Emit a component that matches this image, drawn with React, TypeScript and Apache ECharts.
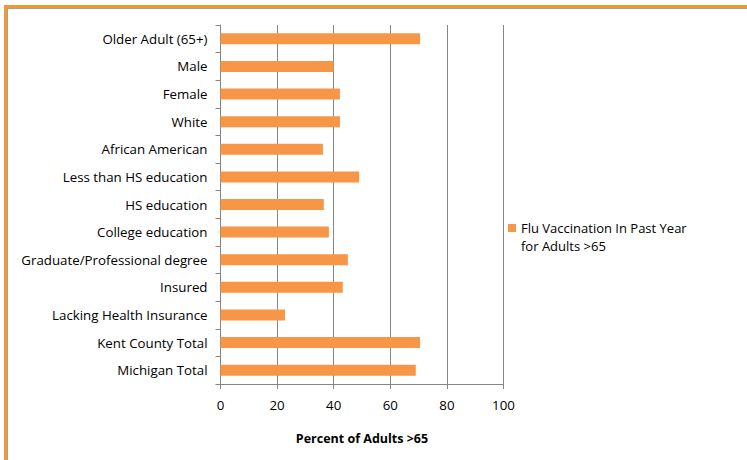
import React, { useEffect, useRef } from "react";
import * as echarts from "echarts";

const categories = [
  "Older Adult (65+)",
  "Male",
  "Female",
  "White",
  "African American",
  "Less than HS education",
  "HS education",
  "College education",
  "Graduate/Professional degree",
  "Insured",
  "Lacking Health Insurance",
  "Kent County Total",
  "Michigan Total",
];
const values = [70.5, 40, 42.2, 42.2, 36.2, 49, 36.5, 38.3, 45, 43.2, 22.8, 70.5, 69];
const seriesName = "Flu Vaccination In Past Year\nfor Adults >65";
const axisTitle = "Percent of Adults >65";

const FONT = "'Open Sans', 'Noto Sans', sans-serif";

export default function App() {
  const ref = useRef<HTMLDivElement>(null);
  useEffect(() => {
    document.body.style.margin = "0";
    const chart = echarts.init(ref.current!, null, { renderer: "svg" });
    chart.setOption({
      animation: false,
      backgroundColor: "#ffffff",
      textStyle: { fontFamily: FONT },
      grid: { left: 220.5, top: 25, width: 283, height: 359, containLabel: false },
      legend: {
        left: 503,
        top: 214,
        orient: "vertical",
        itemWidth: 8,
        itemHeight: 26,
        icon: "path://M0,0L8,0L8,8L0,8Z M0,26L0,26",
        itemGap: 4,
        textStyle: { fontSize: 13, color: "#000", fontFamily: FONT, lineHeight: 18 },
        data: [seriesName],
      },
      xAxis: {
        type: "value",
        min: 0,
        max: 100,
        interval: 20,
        name: axisTitle,
        nameLocation: "middle",
        nameGap: 48,
        nameTextStyle: { fontSize: 12.5, fontWeight: "bold", color: "#000", fontFamily: FONT },
        axisLine: { show: true, lineStyle: { color: "#868686" } },
        axisTick: { show: true, length: 5, inside: false, lineStyle: { color: "#868686" } },
        axisLabel: { fontSize: 13.3, color: "#000", margin: 14, fontFamily: FONT },
        splitLine: { show: true, lineStyle: { color: "#868686", width: 1 } },
      },
      yAxis: {
        type: "category",
        data: categories,
        inverse: true,
        axisLine: { show: true, lineStyle: { color: "#868686" } },
        axisTick: { show: true, length: 5, alignWithLabel: false, lineStyle: { color: "#868686" } },
        axisLabel: { fontSize: 13.3, color: "#000", margin: 13, fontFamily: FONT },
        splitLine: { show: false },
      },
      series: [
        {
          name: seriesName,
          type: "bar",
          data: values,
          barWidth: 11,
          itemStyle: { color: "#F79646" },
        },
      ],
      graphic: [
        { type: "rect", shape: { x: 4, y: 5, width: 743, height: 3 }, style: { fill: "#F7962E" }, silent: true },
        { type: "rect", shape: { x: 4, y: 5, width: 3, height: 455 }, style: { fill: "#F7962E" }, silent: true },
        { type: "line", shape: { x1: 7, y1: 8.5, x2: 747, y2: 8.5 }, style: { stroke: "#a0a0a0", lineWidth: 1 }, silent: true },
        { type: "line", shape: { x1: 7.5, y1: 8, x2: 7.5, y2: 460 }, style: { stroke: "#a0a0a0", lineWidth: 1 }, silent: true },
      ],
    });
    return () => chart.dispose();
  }, []);
  return <div ref={ref} style={{ width: 747, height: 460 }} />;
}
